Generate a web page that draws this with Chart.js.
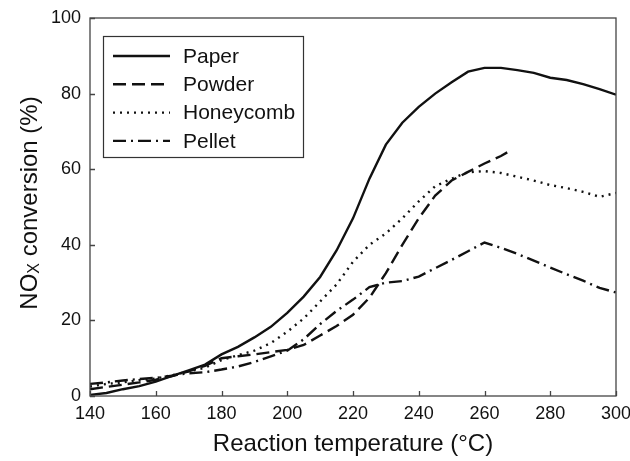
<!DOCTYPE html>
<html>
<head>
<meta charset="utf-8">
<title>NOx conversion</title>
<script src="https://cdn.jsdelivr.net/npm/chart.js@4.4.1/dist/chart.umd.min.js"></script>
<style>
    html, body { margin: 0; padding: 0; background: #fff; }
    #wrap { width: 630px; height: 461px; }
</style>
</head>
<body>
<div id="wrap"><canvas id="nox-chart" width="630" height="461"></canvas></div>
<script>
// --- data ---
const temps = [140, 145, 150, 155, 160, 165, 170, 175, 180, 185, 190, 195, 200, 205, 210, 215,
    220, 225, 230, 235, 240, 245, 250, 255, 260, 265, 270, 275, 280, 285, 290, 295, 300];
const paper = [0.3, 0.8, 1.8, 2.6, 3.8, 5.3, 6.8, 8.3, 11.0, 13.0, 15.5, 18.3, 22.0, 26.3, 31.5, 38.5,
    47.0, 57.5, 66.5, 72.3, 76.5, 80.0, 83.0, 85.8, 86.8, 86.8, 86.2, 85.5, 84.2, 83.6, 82.5, 81.2, 79.7];
const honeycomb = [2.5, 3.2, 3.6, 4.2, 4.6, 5.5, 6.5, 7.5, 9.5, 10.8, 12.0, 14.0, 17.0, 20.5, 25.0, 29.5,
    35.5, 40.0, 43.0, 47.0, 51.5, 55.5, 57.5, 59.2, 59.5, 59.0, 58.0, 57.0, 55.8, 55.0, 54.0, 52.7, 53.7];
const pellet = [3.2, 3.6, 4.1, 4.5, 4.8, 5.4, 6.0, 6.3, 7.0, 7.8, 9.0, 10.5, 12.0, 15.0, 19.0, 22.5,
    25.5, 28.8, 30.0, 30.4, 31.6, 33.8, 36.0, 38.3, 40.6, 39.2, 37.6, 35.8, 34.0, 32.2, 30.5, 28.6, 27.4];
const powderTemps = [140, 145, 150, 155, 160, 165, 170, 175, 180, 185, 190, 195, 200, 205, 210, 215,
    220, 225, 230, 235, 240, 245, 250, 255, 260, 265, 268];
const powder = [1.8, 2.4, 3.0, 3.6, 4.3, 5.3, 6.5, 8.0, 10.0, 10.5, 11.0, 11.6, 12.2, 13.5, 16.0, 18.5,
    21.5, 26.0, 32.5, 40.0, 47.0, 53.0, 57.0, 59.3, 61.5, 63.5, 65.0];
const seriesNames = ['Paper', 'Powder', 'Honeycomb', 'Pellet'];
const xTicks = [140, 160, 180, 200, 220, 240, 260, 280, 300];
const yTicks = [0, 20, 40, 60, 80, 100];

document.addEventListener('DOMContentLoaded', () => {
    const ctx = document.getElementById('nox-chart').getContext('2d');
    const FONT = 'Liberation Sans, Arial, Helvetica, sans-serif';
    const INK = '#111';

    const toPoints = (xs, ys) => xs.map((t, i) => ({ x: t, y: ys[i] }));

    const lineSet = (label, data, dash) => ({
        label: label,
        data: data,
        borderColor: INK,
        borderWidth: 2.4,
        borderDash: dash,
        pointRadius: 0,
        tension: 0,
        fill: false
    });

    // frame, inward ticks, y title with subscript and the boxed legend
    const decorPlugin = {
        id: 'decor',
        afterDraw(chart) {
            const { ctx: c, chartArea: a, scales: { x, y } } = chart;
            c.save();
            c.strokeStyle = '#444';
            c.lineWidth = 1.3;
            c.strokeRect(a.left, a.top, a.right - a.left, a.bottom - a.top);

            c.beginPath();
            x.ticks.forEach(t => {
                const px = Math.round(x.getPixelForValue(t.value)) + 0.5;
                c.moveTo(px, a.bottom); c.lineTo(px, a.bottom - 5);
            });
            y.ticks.forEach(t => {
                const py = Math.round(y.getPixelForValue(t.value)) + 0.5;
                c.moveTo(a.left, py); c.lineTo(a.left + 5, py);
            });
            c.stroke();

            // --- y axis title: NO_X conversion (%) ---
            c.save();
            c.translate(30, 203);
            c.rotate(-Math.PI / 2);
            c.fillStyle = INK;
            c.textBaseline = 'middle';
            const big = `24px ${FONT}`, small = `16px ${FONT}`;
            c.font = big;
            const w1 = c.measureText('NO').width;
            const w3 = c.measureText(' conversion (%)').width;
            c.font = small;
            const w2 = c.measureText('X').width;
            let sx = -(w1 + w2 + w3) / 2;
            c.font = big; c.fillText('NO', sx, 0); sx += w1;
            c.font = small; c.fillText('X', sx, 5); sx += w2;
            c.font = big; c.fillText(' conversion (%)', sx, 0);
            c.restore();

            // --- legend box ---
            const box = { left: 103, top: 36, width: 200, height: 121 };
            c.fillStyle = '#fff';
            c.fillRect(box.left, box.top, box.width, box.height);
            c.strokeStyle = '#333';
            c.lineWidth = 1.2;
            c.strokeRect(box.left + 0.5, box.top + 0.5, box.width, box.height);
            c.font = `21px ${FONT}`;
            c.textBaseline = 'middle';
            chart.data.datasets.forEach((ds, i) => {
                const ly = 56 + i * 28.3;
                c.strokeStyle = INK;
                c.lineWidth = 2.4;
                c.setLineDash(ds.borderDash || []);
                c.beginPath();
                c.moveTo(113, ly); c.lineTo(170, ly);
                c.stroke();
                c.setLineDash([]);
                c.fillStyle = INK;
                c.fillText(ds.label, 183, ly + 1);
            });
            c.restore();
        }
    };

    new Chart(ctx, {
        type: 'line',
        data: {
            datasets: [
                lineSet(seriesNames[0], toPoints(temps, paper), []),
                lineSet(seriesNames[1], toPoints(powderTemps, powder), [13, 6]),
                lineSet(seriesNames[2], toPoints(temps, honeycomb), [2, 5]),
                lineSet(seriesNames[3], toPoints(temps, pellet), [13, 5, 2, 5])
            ]
        },
        options: {
            responsive: false,
            animation: false,
            layout: { padding: { top: 18, right: 14, left: 0, bottom: 0 } },
            plugins: {
                legend: { display: false },
                tooltip: { enabled: false }
            },
            scales: {
                x: {
                    type: 'linear',
                    min: 140,
                    max: 300,
                    afterBuildTicks: s => { s.ticks = xTicks.map(v => ({ value: v })); },
                    afterFit: s => { s.height = 65; s.paddingLeft = 0; s.paddingRight = 0; },
                    grid: { display: false, drawTicks: false },
                    border: { display: false },
                    ticks: { color: INK, padding: 7, font: { family: FONT, size: 18 }, maxRotation: 0 },
                    title: {
                        display: true,
                        text: 'Reaction temperature (°C)',
                        color: INK,
                        font: { family: FONT, size: 24 },
                        padding: { top: 0, bottom: 2 }
                    }
                },
                y: {
                    min: 0,
                    max: 100,
                    afterBuildTicks: s => { s.ticks = yTicks.map(v => ({ value: v })); },
                    afterFit: s => { s.width = 90; s.paddingTop = 0; s.paddingBottom = 0; },
                    grid: { display: false, drawTicks: false },
                    border: { display: false },
                    ticks: { color: INK, padding: 9, font: { family: FONT, size: 18 } }
                }
            }
        },
        plugins: [decorPlugin]
    });
});
</script>
</body>
</html>
